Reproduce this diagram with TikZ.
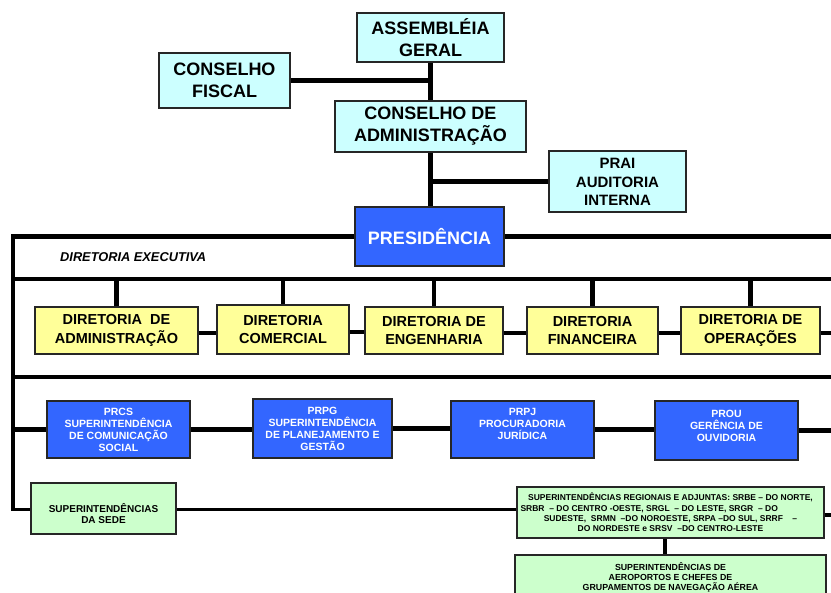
\documentclass[tikz,border=0pt]{standalone}
\usepackage{fontspec}
\setmainfont{Liberation Sans}
\usepackage{xcolor}
\usetikzlibrary{positioning,calc}
\definecolor{ciano}{HTML}{CCFFFF}
\definecolor{amarelo}{HTML}{FFFF99}
\definecolor{azul}{HTML}{3366FF}
\definecolor{verde}{HTML}{CCFFCC}
\newcommand*{\xEsq}{13}
\newcommand*{\xDir}{836}
\newcommand*{\desce}[2]{\raisebox{-#1}[\height][\depth]{\begin{tabular}{@{}c@{}}#2\end{tabular}}}

\begin{document}
\begin{tikzpicture}[x=1pt,y=-1pt,
	box/.style={rectangle,draw=black!85,line width=1.6pt,inner sep=0pt,align=center},
	topbox/.style={box,fill=ciano,font=\fontsize{18}{22}\selectfont\bfseries},
	praibox/.style={box,fill=ciano,font=\fontsize{15}{18.5}\selectfont\bfseries},
	presbox/.style={box,fill=azul,text=white,font=\fontsize{18}{22}\selectfont\bfseries},
	dirbox/.style={box,fill=amarelo,minimum height=47pt,font=\fontsize{14.5}{18.5}\selectfont\bfseries},
	supbox/.style={box,fill=azul,text=white,minimum width=143pt,font=\fontsize{10.5}{12}\selectfont\bfseries},
	verdebox/.style={box,fill=verde,font=\bfseries},
	link/.style={line width=4.5pt},
	fino/.style={line width=3pt}]
	\useasboundingbox (0,0) rectangle (831,593);
	\clip (0,0) rectangle (831,593);
	\coordinate (esq) at (\xEsq,0);
	\coordinate (dir) at (\xDir,0);
	\coordinate (b1) at (\xEsq,279);
	\coordinate (b2) at (\xEsq,377);
	% conselhos
	\node[topbox,minimum width=147pt,minimum height=49pt] (ag) at (430.5,37.5) {ASSEMBLÉIA\\GERAL};
	\node[topbox,minimum width=131pt,minimum height=55pt] (cf) at (224.5,80.5) {CONSELHO\\FISCAL};
	\node[topbox,minimum width=191pt,minimum height=51pt] (ca) at (430.5,126.5) {CONSELHO DE\\ADMINISTRAÇÃO};
	\node[praibox,minimum width=137pt,minimum height=61pt] (prai) at (617.5,181.5) {\desce{2pt}{PRAI\\AUDITORIA\\INTERNA}};
	\node[presbox,minimum width=149pt,minimum height=59pt] (pres) at (429.5,236.5) {PRESIDÊNCIA};
	\node[anchor=west,inner sep=0pt,font=\fontsize{12.8}{15}\selectfont\bfseries\itshape] (dexec) at (60,257) {DIRETORIA EXECUTIVA};
	% diretorias
	\node[dirbox,minimum width=163pt] (dadm) at (116.5,330.5) {DIRETORIA~ DE\\ADMINISTRAÇÃO};
	\node[dirbox,minimum width=132pt,minimum height=49pt] (dcom) at (283,329.5) {DIRETORIA\\COMERCIAL};
	\node[dirbox,minimum width=138pt] (deng) at (434,330.5) {DIRETORIA DE\\ENGENHARIA};
	\node[dirbox,minimum width=131pt] (dfin) at (592.5,330.5) {DIRETORIA\\FINANCEIRA};
	\node[dirbox,minimum width=139pt] (dop) at (750.5,330.5) {DIRETORIA DE\\OPERAÇÕES};
	% superintendencias
	\node[supbox,minimum height=57pt] (prcs) at (118.5,429.5) {PRCS\\SUPERINTENDÊNCIA\\DE COMUNICAÇÃO\\SOCIAL};
	\node[supbox,minimum width=139pt,minimum height=59pt] (prpg) at (322.5,428.5) {PRPG\\SUPERINTENDÊNCIA\\DE PLANEJAMENTO E\\GESTÃO};
	\node[supbox,minimum height=57pt] (prpj) at (522.5,429.5) {PRPJ\\PROCURADORIA\\JURÍDICA\\[-1pt]};
	\node[supbox,minimum height=59pt] (prou) at (726.5,430.5) {PROU\\GERÊNCIA DE\\OUVIDORIA\\[-3pt]};
	\node[verdebox,minimum width=145pt,minimum height=51pt,font=\fontsize{10}{11.3}\selectfont\bfseries] (sede) at (103.5,508.5) {\desce{7pt}{SUPERINTENDÊNCIAS\\DA SEDE}};
	\node[verdebox,minimum width=307pt,minimum height=51pt,font=\fontsize{8.5}{10.3}\selectfont\bfseries] (reg) at (670.5,512.5) {SUPERINTENDÊNCIAS REGIONAIS E ADJUNTAS: SRBE – DO NORTE,\\\makebox[300pt][l]{SRBR~ – DO CENTRO -OESTE, SRGL~ – DO LESTE, SRGR~ – DO}\\SUDESTE,~ SRMN~ –DO NOROESTE, SRPA –DO SUL, SRRF~~~ –\\DO NORDESTE e SRSV~ –DO CENTRO-LESTE};
	\node[verdebox,minimum width=311pt,minimum height=44pt,font=\fontsize{8.8}{10}\selectfont\bfseries] (aero) at (670.5,577) {SUPERINTENDÊNCIAS DE\\AEROPORTOS E CHEFES DE\\GRUPAMENTOS DE NAVEGAÇÃO AÉREA};
	% ligacoes
	\draw[link] (ag.south) -- (ca.north);
	\draw[link] (ca.south) -- (ca.south |- pres.north);
	\draw[link] (cf.east) -- (cf.east -| ag.south);
	\draw[link] (prai.west) -- (prai.west -| ca.south);
	\draw[link] (pres.west) -| ([yshift=-3pt]sede.west -| esq);
	\draw[link] (pres.east) -- (pres.east -| dir);
	\draw[link] (b1) -- (b1 -| dir);
	\draw[link] (b2) -- (b2 -| dir);
	\foreach \d in {dadm,dcom,deng,dfin,dop}
		\draw[link] (\d.north) -- (\d.north |- b1);
	\foreach \a/\b in {dadm/dcom,dcom/deng,deng/dfin,dfin/dop}
		\draw[link] ([yshift=-2.5pt]\a.east) -- ([yshift=-2.5pt]\a.east -| \b.west);
	\draw[link] ([yshift=-2.5pt]dop.east) -- ([yshift=-2.5pt]dop.east -| dir);
	\draw[link] (prcs.west -| esq) -- (prcs.west);
	\foreach \a/\b in {prcs/prpg,prpg/prpj,prpj/prou}
		\draw[link] (\a.east) -- (\a.east -| \b.west);
	\draw[link] (prou.east) -- (prou.east -| dir);
	\draw[fino] ([yshift=-1.5pt]sede.west -| esq) -- ([yshift=-1.5pt]sede.west);
	\draw[fino] ([yshift=-1.5pt]sede.east) -- ([yshift=-1.5pt]sede.east -| reg.west);
	\draw[link] ([yshift=-2.5pt]reg.east) -- ([yshift=-2.5pt]reg.east -| dir);
	\draw[link] ([xshift=-5.5pt]reg.south) -- ([xshift=-5.5pt]reg.south |- aero.north);
\end{tikzpicture}
\end{document}
